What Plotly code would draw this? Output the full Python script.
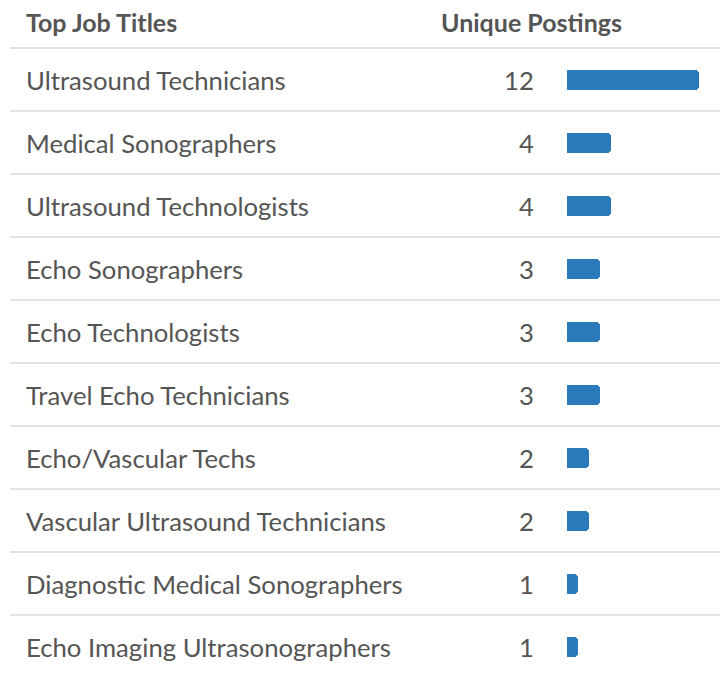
import plotly.graph_objects as go

# Data
titles = [
    "Ultrasound Technicians",
    "Medical Sonographers",
    "Ultrasound Technologists",
    "Echo Sonographers",
    "Echo Technologists",
    "Travel Echo Technicians",
    "Echo/Vascular Techs",
    "Vascular Ultrasound Technicians",
    "Diagnostic Medical Sonographers",
    "Echo Imaging Ultrasonographers",
]
postings = [12, 4, 4, 3, 3, 3, 2, 2, 1, 1]
headers = ["Top Job Titles", "Unique Postings"]

W, H = 720, 674
ROW_H = 63
FIRST_CENTER = 79.5
BAR_X0 = 567
PX_PER_UNIT = 11.0
TEXT_COLOR = "#555555"
LINE_COLOR = "#e3e3e3"
BAR_COLOR = "#2b7bba"

rows = list(range(len(titles)))

fig = go.Figure(go.Bar(
    x=postings,
    y=rows,
    orientation="h",
    width=20 / ROW_H,
    marker=dict(color=BAR_COLOR, cornerradius=4, line=dict(width=0)),
    hoverinfo="skip",
    showlegend=False,
))

annotations = []
shapes = []

# header row
header_y = -FIRST_CENTER / ROW_H + 22 / ROW_H
annotations.append(dict(text=f"<b>{headers[0]}</b>", x=24 / W, xref="paper", y=header_y, yref="y",
                        xanchor="left", yanchor="middle", showarrow=False,
                        font=dict(size=25, color=TEXT_COLOR)))
annotations.append(dict(text=f"<b>{headers[1]}</b>", x=624 / W, xref="paper", y=header_y, yref="y",
                        xanchor="right", yanchor="middle", showarrow=False,
                        font=dict(size=25, color=TEXT_COLOR)))

for i, (t, v) in enumerate(zip(titles, postings)):
    annotations.append(dict(text=t, x=24 / W, xref="paper", y=i, yref="y",
                            xanchor="left", yanchor="middle", showarrow=False,
                            font=dict(size=25.7, color=TEXT_COLOR)))
    annotations.append(dict(text=str(v), x=536 / W, xref="paper", y=i, yref="y",
                            xanchor="right", yanchor="middle", showarrow=False,
                            font=dict(size=25.7, color=TEXT_COLOR)))

# row separators
for i in range(len(titles) + 1):
    shapes.append(dict(type="line", xref="paper", yref="y", x0=10 / W, x1=1,
                       y0=i - 0.5, y1=i - 0.5, line=dict(color=LINE_COLOR, width=2),
                       layer="below"))

fig.update_layout(
    width=W,
    height=H,
    margin=dict(l=0, r=0, t=0, b=0),
    paper_bgcolor="white",
    plot_bgcolor="white",
    font=dict(family="Lato, 'Open Sans', sans-serif", color=TEXT_COLOR),
    xaxis=dict(range=[-BAR_X0 / PX_PER_UNIT, (W - BAR_X0) / PX_PER_UNIT],
               visible=False, fixedrange=True),
    yaxis=dict(range=[(H - FIRST_CENTER) / ROW_H, -FIRST_CENTER / ROW_H],
               visible=False, fixedrange=True),
    annotations=annotations,
    shapes=shapes,
    bargap=0,
)

fig.write_html("out.html", config={"displayModeBar": False},
               post_script="document.body.style.margin='0';")
